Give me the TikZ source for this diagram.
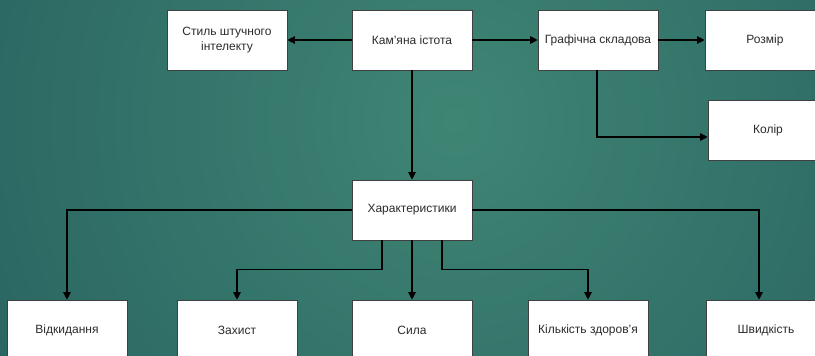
\documentclass[tikz,border=0pt]{standalone}
\usepackage{fontspec}
\setmainfont{Liberation Sans}
\usetikzlibrary{arrows.meta}
\definecolor{bgdark}{HTML}{174A52}
\definecolor{bglight}{HTML}{3F8574}
\definecolor{txt}{HTML}{2B2B2B}
\tikzset{
  block/.style={draw=black!75, line width=0.6pt, fill=white, minimum width=120pt,
    minimum height=60pt, inner sep=0pt, align=center, text=txt,
    font=\fontsize{12}{14.5}\selectfont},
  link/.style={draw=black, line width=1.1pt, -{Triangle[length=7.5pt,width=7.5pt]}}
}
\begin{document}
\begin{tikzpicture}[x=1pt,y=-1pt]
\useasboundingbox (0,0) rectangle (815,356);
% background gradient
\begin{scope}
  \clip (0,0) rectangle (815,356);
  \fill[bgdark] (0,0) rectangle (815,356);
  \shade[inner color=bglight, outer color=bgdark] (455,120) circle (980);
\end{scope}

% top row
\node[block] (ai)    at (227,40)  {Стиль штучного\\інтелекту};
\node[block] (stone) at (412,40)  {Кам'яна істота};
\node[block] (graph) at (598,40)  {Графічна складова};
\node[block] (size)  at (765,40)  {Розмір};
\node[block] (color) at (768,130) {Колір};

% middle
\node[block] (chars) at (412,210) {Характеристики};

% bottom row
\node[block] (knock) at (67,330)  {Відкидання};
\node[block] (def)   at (237,330) {Захист};
\node[block] (str)   at (412,330) {Сила};
\node[block] (hp)    at (588,330) {Кількість здоров'я};
\node[block] (spd)   at (766,330) {Швидкість};

% connectors
\draw[link] (stone.west) -- (ai.east);
\draw[link] (stone.east) -- (graph.west);
\draw[link] (graph.east) -- (size.west);
\draw[link] ([xshift=-1pt]graph.south) |- ([yshift=-7pt]color.west);
\draw[link] (stone.south) -- (chars.north);
\draw[link] (chars.west) -| (knock.north);
\draw[link] ([xshift=-30pt]chars.south) -- ++(0,29) -| (def.north);
\draw[link] (chars.south) -- (str.north);
\draw[link] ([xshift=30pt]chars.south) -- ++(0,29) -| (hp.north);
\draw[link] (chars.east) -| ([xshift=-7pt]spd.north);
\end{tikzpicture}
\end{document}
